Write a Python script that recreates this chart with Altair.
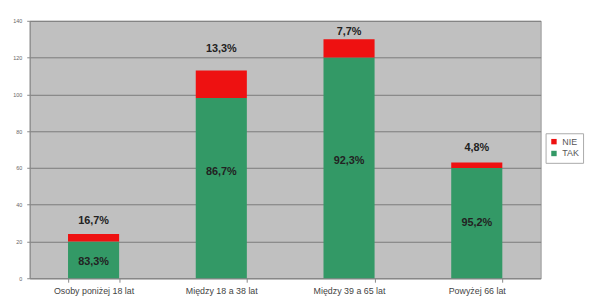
import altair as alt
import pandas as pd

categories = ["Osoby poniżej 18 lat", "Między 18 a 38 lat", "Między 39 a 65 lat", "Powyżej 66 lat"]
tak_values = [20, 98, 120, 60]
nie_values = [4, 15, 10, 3]
tak_labels = ["83,3%", "86,7%", "92,3%", "95,2%"]
nie_labels = ["16,7%", "13,3%", "7,7%", "4,8%"]
tak_label_pos = [9, 58, 64, 30]
nie_label_pos = [31, 124.5, 134, 71]
y_ticks = [0, 20, 40, 60, 80, 100, 120, 140]

rows = []
for c, t, n in zip(categories, tak_values, nie_values):
    rows.append({"cat": c, "series": "TAK", "y0": 0, "y1": t})
    rows.append({"cat": c, "series": "NIE", "y0": t, "y1": t + n})
bars_df = pd.DataFrame(rows)

lab_rows = []
for c, tl, nl, tp, npos in zip(categories, tak_labels, nie_labels, tak_label_pos, nie_label_pos):
    lab_rows.append({"cat": c, "txt": tl, "pos": tp})
    lab_rows.append({"cat": c, "txt": nl, "pos": npos})
lab_df = pd.DataFrame(lab_rows)

x_axis = alt.Axis(labelAngle=0, labelFontSize=9, labelColor="#444444",
                  labelFont="Liberation Sans", tickBand="extent",
                  domainColor="#888888", tickColor="#888888", tickSize=4,
                  labelPadding=4, labelOverlap=False, labelBaseline="top")
x_scale = alt.Scale(paddingInner=0.6, paddingOuter=0.3)

y_axis = alt.Axis(values=y_ticks, labelFontSize=5.5, labelColor="#666666",
                  gridColor="#7a7a7a", gridWidth=1, domainColor="#888888",
                  tickColor="#888888", tickSize=3, labelPadding=5, labelOverlap=False)
y_scale = alt.Scale(domain=[0, 140], nice=False)

bars = alt.Chart(bars_df).mark_bar().encode(
    x=alt.X("cat:N", sort=categories, title=None, scale=x_scale, axis=x_axis),
    y=alt.Y("y0:Q", scale=y_scale, title=None, axis=y_axis),
    y2="y1:Q",
    color=alt.Color("series:N", scale=alt.Scale(domain=["NIE", "TAK"], range=["#ee1111", "#339966"]),
                    legend=alt.Legend(title=None, orient="none", legendX=523, legendY=114,
                                      symbolType="square", symbolSize=30, labelFontSize=9,
                                      labelColor="#555555", labelFont="Liberation Sans",
                                      strokeColor="#aaaaaa", padding=4, rowPadding=2,
                                      symbolStrokeWidth=0, fillColor="white")),
)

labels = alt.Chart(lab_df).mark_text(fontWeight="bold", fontSize=11, font="Liberation Sans",
                                     color="#222222", baseline="middle").encode(
    x=alt.X("cat:N", sort=categories, title=None, scale=x_scale, axis=x_axis),
    y=alt.Y("pos:Q", scale=y_scale, title=None, axis=y_axis),
    text="txt:N",
)

chart = (bars + labels).properties(
    width=518, height=261,
    background="white",
    autosize=alt.AutoSizeParams(type="none"),
    padding={"left": 22, "top": 11, "right": 47, "bottom": 16},
).configure_view(fill="#c0c0c0", stroke="#999999")

chart.save("out.html", embed_options={"renderer": "svg", "actions": False})
